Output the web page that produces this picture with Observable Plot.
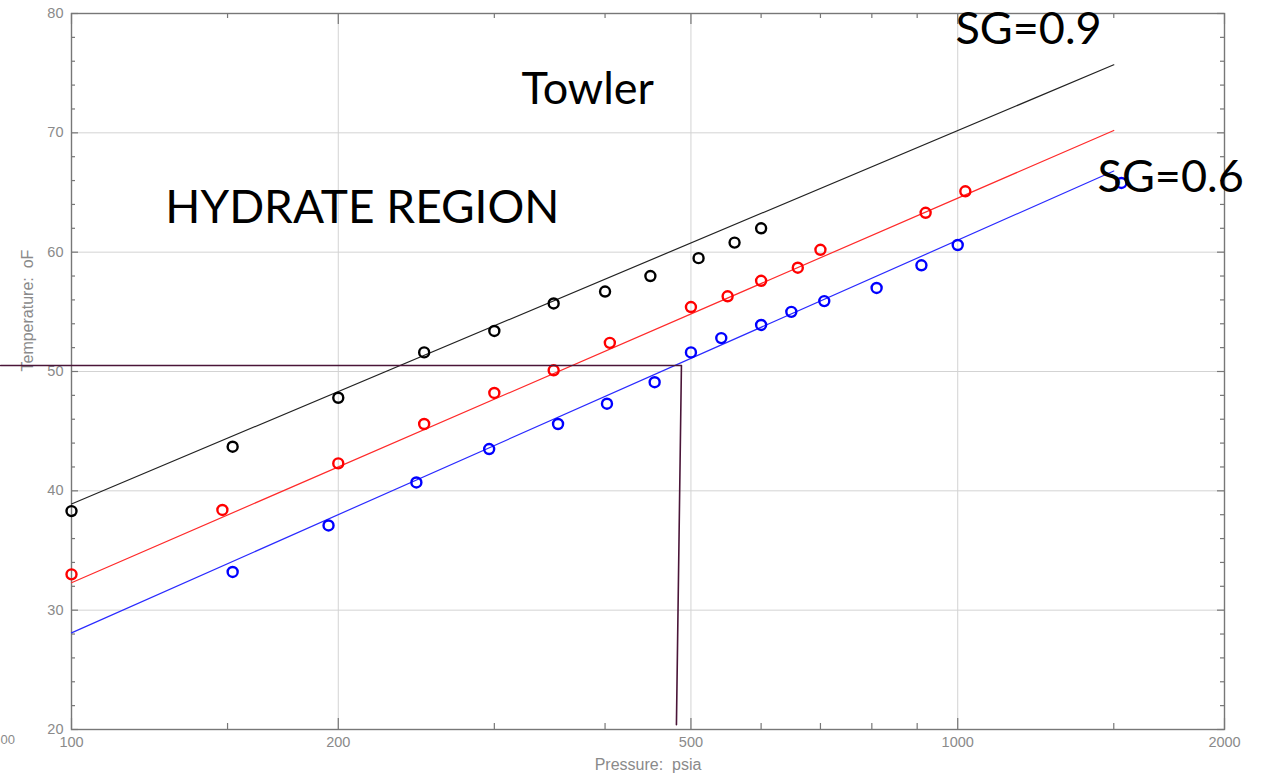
<!DOCTYPE html>
<html>
<head>
<meta charset="utf-8">
<script src="https://cdn.jsdelivr.net/npm/d3@7"></script>
<script src="https://cdn.jsdelivr.net/npm/@observablehq/plot@0.6"></script>
<style>
  html, body { margin: 0; padding: 0; background: #fff; }
  #chart svg { display: block; }
</style>
</head>
<body>
<div id="chart"></div>
<script>
// ---- Data (pressure psia, temperature °F) ----
const sg09P = [100, 152, 200, 250, 300, 350, 400, 450, 510, 560, 600];
const sg09T = [38.3, 43.7, 47.8, 51.6, 53.4, 55.7, 56.7, 58.0, 59.5, 60.8, 62.0];

const sg07P = [100, 148, 200, 250, 300, 350, 405, 500, 550, 600, 660, 700, 920, 1020];
const sg07T = [33.0, 38.4, 42.3, 45.6, 48.2, 50.1, 52.4, 55.4, 56.3, 57.6, 58.7, 60.2, 63.3, 65.1];

const sg06P = [152, 195, 245, 296, 354, 402, 455, 500, 541, 600, 649, 707, 810, 910, 1000, 1530];
const sg06T = [33.2, 37.1, 40.7, 43.5, 45.6, 47.3, 49.1, 51.6, 52.8, 53.9, 55.0, 55.9, 57.0, 58.9, 60.6, 65.8];

// Fitted straight lines (on log pressure)
const fitP = [100, 1500];
const fit09T = [38.9, 75.7];
const fit07T = [32.3, 70.2];
const fit06T = [28.1, 66.8];

// Guide line (read-off at ~50.5 °F)
const guideP = [83.2, 487.8, 481.5];
const guideT = [50.5, 50.5, 20.4];

// Ticks
const xMajor = [100, 200, 500, 1000, 2000];
const xMinor = [150, 300, 400, 600, 700, 800, 900, 1500];
const xGrid = [200, 500, 1000];
const yMajor = [20, 30, 40, 50, 60, 70, 80];
const yMinor = d3.range(22, 80, 2).filter(v => v % 10 !== 0);
const yGrid = [30, 40, 50, 60, 70];

// ---- Build tables ----
const zip = (P, T) => P.map((p, i) => ({p, t: T[i]}));
const pts09 = zip(sg09P, sg09T), pts07 = zip(sg07P, sg07T), pts06 = zip(sg06P, sg06T);
const line09 = zip(fitP, fit09T), line07 = zip(fitP, fit07T), line06 = zip(fitP, fit06T);
const guide = zip(guideP, guideT);

const W = 1268, H = 782;
const mL = 71, mR = 44, mT = 13, mB = 53;
const pw = W - mL - mR, ph = H - mT - mB;

const big = {fontFamily: "Lato, 'Open Sans', sans-serif", fontSize: 45, fill: "black", textAnchor: "start", lineAnchor: "middle"};

const chart = Plot.plot({
  width: W, height: H,
  marginLeft: mL, marginRight: mR, marginTop: mT, marginBottom: mB,
  style: {fontFamily: "'Liberation Sans', Arial, sans-serif", background: "white"},
  x: {type: "log", domain: [100, 2000]},
  y: {domain: [20, 80]},
  marks: [
    Plot.ruleX(xGrid, {x: d => d, stroke: "#d3d3d3", strokeWidth: 1}),
    Plot.ruleY(yGrid, {y: d => d, stroke: "#d3d3d3", strokeWidth: 1}),
    // inward ticks on all four sides
    Plot.tickX(xMajor, {x: d => d, insetTop: ph - 11, stroke: "#777", strokeWidth: 1.2}),
    Plot.tickX(xMinor, {x: d => d, insetTop: ph - 6, stroke: "#777", strokeWidth: 1.2}),
    Plot.tickX(xMajor, {x: d => d, insetBottom: ph - 11, stroke: "#777", strokeWidth: 1.2}),
    Plot.tickX(xMinor, {x: d => d, insetBottom: ph - 5, stroke: "#777", strokeWidth: 1.2}),
    Plot.tickY(yMajor, {y: d => d, insetRight: pw - 7, stroke: "#777", strokeWidth: 1.2}),
    Plot.tickY(yMinor, {y: d => d, insetRight: pw - 4, stroke: "#777", strokeWidth: 1.2}),
    Plot.tickY(yMajor, {y: d => d, insetLeft: pw - 7, stroke: "#777", strokeWidth: 1.2}),
    Plot.tickY(yMinor, {y: d => d, insetLeft: pw - 4, stroke: "#777", strokeWidth: 1.2}),
    Plot.frame({stroke: "#777", strokeWidth: 1.4}),
    // axes labels
    Plot.axisX({ticks: xMajor, tickFormat: d => String(d), tickSize: 0, tickPadding: 7, fontSize: 14.5, color: "#8a8a8a", label: null}),
    Plot.axisY({ticks: yMajor, tickFormat: d => String(d), tickSize: 0, tickPadding: 8, fontSize: 14.5, color: "#8a8a8a", label: null}),
    Plot.text(["Pressure:\u00a0\u00a0psia"], {text: d => d, frameAnchor: "bottom", dy: 40, fontSize: 16, fill: "#8a8a8a"}),
    Plot.text(["Temperature:\u00a0\u00a0oF"], {text: d => d, frameAnchor: "left", dx: -44, rotate: -90, fontSize: 16, fill: "#8a8a8a"}),
    Plot.text(["00"], {text: d => d, frameAnchor: "bottom-left", dx: -71, dy: 14, textAnchor: "start", fontSize: 13, fill: "#8a8a8a"}),
    // fitted lines
    Plot.line(line09, {x: "p", y: "t", stroke: "#222", strokeWidth: 1.2}),
    Plot.line(line07, {x: "p", y: "t", stroke: "#ff2a2a", strokeWidth: 1.2}),
    Plot.line(line06, {x: "p", y: "t", stroke: "#2a2aff", strokeWidth: 1.2}),
    // data points
    Plot.dot(pts09, {x: "p", y: "t", r: 5, stroke: "#000", strokeWidth: 2.4, fill: "none"}),
    Plot.dot(pts07, {x: "p", y: "t", r: 5, stroke: "#f00", strokeWidth: 2.4, fill: "none"}),
    Plot.dot(pts06, {x: "p", y: "t", r: 5, stroke: "#00f", strokeWidth: 2.4, fill: "none"}),
    // guide
    Plot.line(guide, {x: "p", y: "t", stroke: "#4a1538", strokeWidth: 1.6}),
    // annotations
    Plot.text(["Towler"], {...big, text: d => d, x: 322, y: 73.6}),
    Plot.text(["HYDRATE REGION"], {...big, text: d => d, x: 127.6, y: 63.66, fontSize: 46}),
    Plot.text(["SG=0.9"], {...big, text: d => d, x: 994, y: 78.66}),
    Plot.text(["SG=0.6"], {...big, text: d => d, x: 1438, y: 66.26})
  ]
});
document.getElementById("chart").appendChild(chart);
</script>
</body>
</html>
